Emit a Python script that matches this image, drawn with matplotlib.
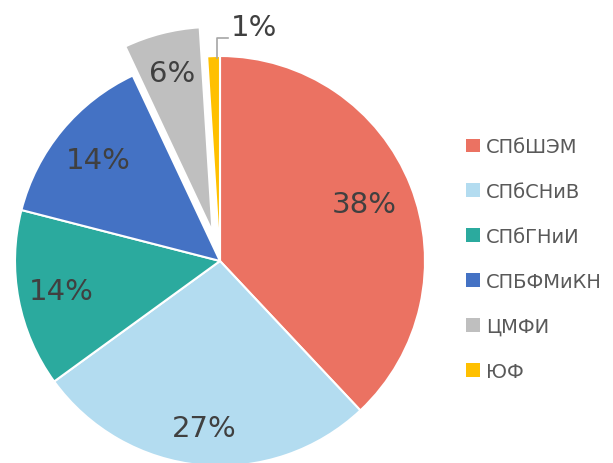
import matplotlib
matplotlib.use('Agg')
import matplotlib.pyplot as plt
import numpy as np

labels = ['СПбШЭМ', 'СПбСНиВ', 'СПбГНиИ', 'СПБФМиКН', 'ЦМФИ', 'ЮФ']
values = [38, 27, 14, 14, 6, 1]
colors = ['#EB7262', '#B3DCF0', '#2BAA9E', '#4472C4', '#BFBFBF', '#FFC000']
explode = [0, 0, 0, 0, 30, 0]          # in pixels (pie uses data units)
label_dist = [0.756, 0.82, 0.79, 0.77, 0.8, None]

fig = plt.figure(figsize=(6.13, 4.64), dpi=100)
ax = fig.add_axes([0, 0, 1, 1])

cx, cy, R = 220, 202, 205
wedges, texts, autotexts = ax.pie(values, colors=colors, explode=explode, startangle=90,
                                  counterclock=False, center=(cx, cy), radius=R,
                                  autopct='%1.0f%%', pctdistance=0.8,
                                  wedgeprops=dict(edgecolor='white', linewidth=1.5),
                                  textprops=dict(fontsize=21, color='#404040'))
ax.set_xlim(0, 613)
ax.set_ylim(0, 464)
ax.set_aspect('equal')
ax.axis('off')

for w, t, d, e in zip(wedges, autotexts, label_dist, explode):
    ang = np.deg2rad((w.theta1 + w.theta2) / 2)
    if d is None:
        t.set_visible(False)
        # outside label with leader line
        x0 = cx + R * np.cos(ang) + 3
        y0 = cy + R * np.sin(ang) - 2
        ax.plot([x0, x0, x0 + 11], [y0, y0 + 20, y0 + 20], color='#A6A6A6', lw=1.2)
        ax.text(x0 + 14, y0 + 31, t.get_text(), fontsize=21, color='#404040',
                ha='left', va='center')
        continue
    r = R * d + e
    t.set_position((cx + r * np.cos(ang), cy + r * np.sin(ang)))

handles = [plt.Rectangle((0, 0), 1, 1, fc=c, ec='none') for c in colors]
ax.legend(handles, labels, loc='center left', bbox_to_anchor=(466 / 613, 204 / 464),
          frameon=False, fontsize=14, labelcolor='#595959', handlelength=0.72,
          handleheight=0.72, handletextpad=0.3, labelspacing=1.33,
          borderaxespad=0, borderpad=0)

plt.savefig('out.png', dpi=100)
